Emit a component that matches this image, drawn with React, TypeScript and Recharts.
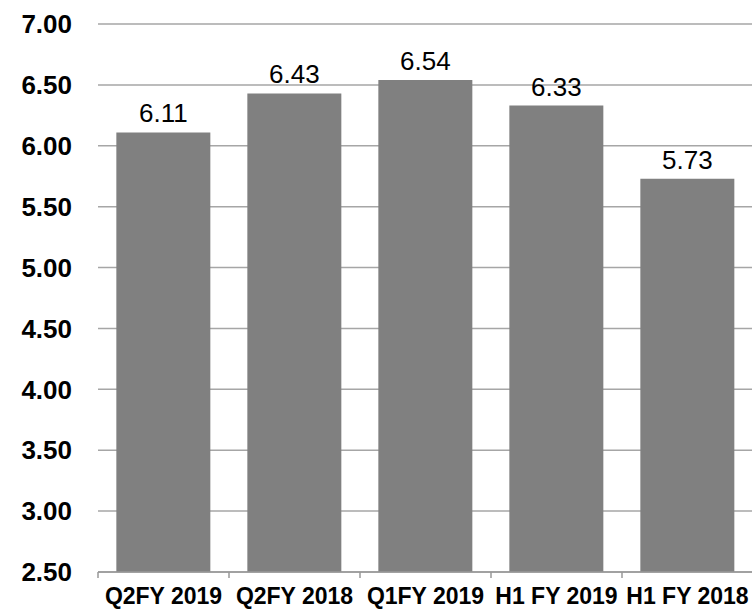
import { BarChart, Bar, XAxis, YAxis, CartesianGrid, LabelList } from "recharts";

const periods = ["Q2FY 2019", "Q2FY 2018", "Q1FY 2019", "H1 FY 2019", "H1 FY 2018"];
const values = [6.11, 6.43, 6.54, 6.33, 5.73];
const yTicks = [2.5, 3, 3.5, 4, 4.5, 5, 5.5, 6, 6.5, 7];

const data = periods.map((period, i) => ({ period, value: values[i] }));

const FONT = "'Liberation Sans', Arial, sans-serif";
const CHART_W = 754;
const YAXIS_W = 98;
const BAND = (CHART_W - 1 - YAXIS_W) / periods.length;

// label + a tick mark on the left edge of each category band
function PeriodTick(props: any) {
    const { x, y, payload } = props;
    const edge = x - BAND / 2;
    return (
        <g>
            <line x1={edge} y1={y - 16} x2={edge} y2={y - 10} stroke="#999999" strokeWidth={1.5} />
            <text
                x={x}
                y={y}
                dy="0.71em"
                textAnchor="middle"
                fill="#000"
                fontFamily={FONT}
                fontSize={23}
                fontWeight="bold"
            >
                {payload.value}
            </text>
        </g>
    );
}

export default function App() {
    return (
        <div style={{ position: "absolute", left: 0, top: 0, width: 752, height: 610, overflow: "hidden", background: "#fff" }}>
            <BarChart
                width={CHART_W}
                height={610}
                data={data}
                margin={{ top: 24, right: 1, left: 0, bottom: 0 }}
                barCategoryGap="14%"
            >
                <CartesianGrid vertical={false} stroke="#a6a6a6" strokeWidth={1.5} />
                <XAxis
                    dataKey="period"
                    height={38}
                    tickLine={false}
                    tickSize={6}
                    tickMargin={10}
                    axisLine={{ stroke: "#999999", strokeWidth: 1.5 }}
                    tick={<PeriodTick />}
                    interval={0}
                />
                <YAxis
                    width={YAXIS_W}
                    domain={[2.5, 7]}
                    ticks={yTicks}
                    allowDataOverflow
                    axisLine={false}
                    tickLine={false}
                    tickSize={0}
                    tickMargin={26}
                    tickFormatter={(v: number) => v.toFixed(2)}
                    tick={{ fill: "#000", fontFamily: FONT, fontSize: 26, fontWeight: "bold" }}
                />
                <Bar dataKey="value" fill="#808080" isAnimationActive={false}>
                    <LabelList
                        dataKey="value"
                        position="top"
                        offset={10}
                        formatter={(v: any) => Number(v).toFixed(2)}
                        style={{ fill: "#000", fontFamily: FONT, fontSize: 26 }}
                    />
                </Bar>
            </BarChart>
        </div>
    );
}
